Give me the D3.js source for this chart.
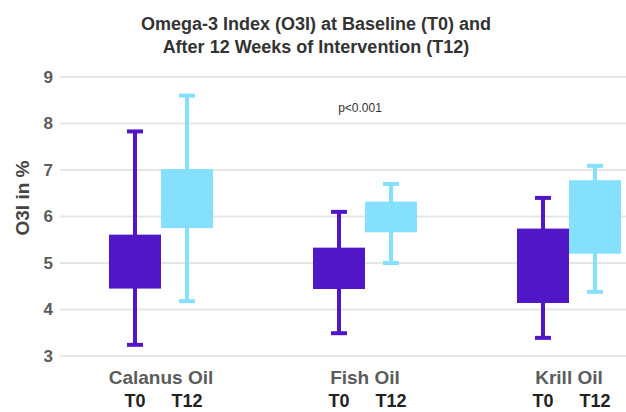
<!DOCTYPE html>
<html>
<head>
<meta charset="utf-8">
<script src="https://cdn.jsdelivr.net/npm/d3@7"></script>
<style>
  html, body { margin: 0; padding: 0; background: #ffffff; }
  svg { display: block; }
</style>
</head>
<body>
<svg id="chart" width="626" height="412"></svg>
<script>
// Groups and time points
const categories = ["Calanus Oil", "Fish Oil", "Krill Oil"];
const timepoints = ["T0", "T12"];

// Box-and-whisker values (O3I in %), one entry per group
const t0Min = [3.24, 3.49, 3.39];
const t0Q1  = [4.45, 4.44, 4.14];
const t0Q3  = [5.61, 5.33, 5.74];
const t0Max = [7.83, 6.10, 6.40];

const t12Min = [4.18, 5.00, 4.38];
const t12Q1  = [5.75, 5.66, 5.20];
const t12Q3  = [7.02, 6.32, 6.78];
const t12Max = [8.60, 6.70, 7.09];

const yTicks = [3, 4, 5, 6, 7, 8, 9];
const pLabel = "p<0.001";

const series = {
  T0:  { min: t0Min,  q1: t0Q1,  q3: t0Q3,  max: t0Max },
  T12: { min: t12Min, q1: t12Q1, q3: t12Q3, max: t12Max }
};
const colors = { T0: "#5117c6", T12: "#84e0fc" };

const W = 626, H = 412;
const svg = d3.select("#chart");

const y = d3.scaleLinear().domain([3, 9]).range([356, 77]);
const x = d3.scaleBand().domain(categories).range([59, 671]).padding(0);
const boxW = 52;
const xs = d3.scaleBand().domain(timepoints)
  .range([x.bandwidth() / 2 - boxW, x.bandwidth() / 2 + boxW]).padding(0);

// Gridlines
svg.append("g").selectAll("line").data(yTicks).join("line")
  .attr("x1", 60).attr("x2", W)
  .attr("y1", d => y(d)).attr("y2", d => y(d))
  .attr("stroke", "#e6e6e6").attr("stroke-width", 2);

// Y axis tick labels
const yAxis = d3.axisLeft(y).tickValues(yTicks).tickSize(0).tickPadding(0).tickFormat(d3.format("d"));
const gy = svg.append("g").attr("transform", "translate(53,0)").call(yAxis);
gy.select(".domain").remove();
gy.selectAll("text")
  .attr("font-family", "Liberation Sans, Arial, sans-serif")
  .attr("font-weight", "bold").attr("font-size", 17).attr("fill", "#5c5c5c");

// Y axis title
svg.append("text")
  .attr("transform", "translate(29,198) rotate(-90)")
  .attr("text-anchor", "middle")
  .attr("font-family", "Liberation Sans, Arial, sans-serif")
  .attr("font-weight", "bold").attr("font-size", 19).attr("fill", "#444")
  .text("O3I in %");

// Title
const title = svg.append("text")
  .attr("text-anchor", "middle")
  .attr("font-family", "Liberation Sans, Arial, sans-serif")
  .attr("font-weight", "bold").attr("font-size", 18).attr("fill", "#333");
title.append("tspan").attr("x", 316).attr("y", 30).text("Omega-3 Index (O3I) at Baseline (T0) and");
title.append("tspan").attr("x", 316).attr("y", 53).text("After 12 Weeks of Intervention (T12)");

// Boxes
const groups = svg.append("g").selectAll("g").data(categories).join("g")
  .attr("transform", d => `translate(${x(d)},0)`);

timepoints.forEach(tp => {
  const s = series[tp];
  const col = colors[tp];
  const cx = xs(tp) + xs.bandwidth() / 2;
  // whisker stem
  groups.append("line")
    .attr("x1", cx).attr("x2", cx)
    .attr("y1", (d, i) => y(s.max[i])).attr("y2", (d, i) => y(s.min[i]))
    .attr("stroke", col).attr("stroke-width", 4);
  // caps
  ["min", "max"].forEach(k => {
    groups.append("line")
      .attr("x1", cx - 8).attr("x2", cx + 8)
      .attr("y1", (d, i) => y(s[k][i])).attr("y2", (d, i) => y(s[k][i]))
      .attr("stroke", col).attr("stroke-width", 4);
  });
  // box
  groups.append("rect")
    .attr("x", xs(tp)).attr("width", xs.bandwidth())
    .attr("y", (d, i) => y(s.q3[i]))
    .attr("height", (d, i) => y(s.q1[i]) - y(s.q3[i]))
    .attr("fill", col);
  // time point label
  groups.append("text")
    .attr("x", cx).attr("y", 407)
    .attr("text-anchor", "middle")
    .attr("font-family", "Liberation Sans, Arial, sans-serif")
    .attr("font-weight", "bold").attr("font-size", 18).attr("fill", "#222")
    .text(tp);
});

// Group labels
groups.append("text")
  .attr("x", x.bandwidth() / 2).attr("y", 384)
  .attr("text-anchor", "middle")
  .attr("font-family", "Liberation Sans, Arial, sans-serif")
  .attr("font-weight", "bold").attr("font-size", 19).attr("fill", "#5c5c5c")
  .text(d => d);

// Significance note
svg.append("text")
  .attr("x", x("Fish Oil") + x.bandwidth() / 2 - 5).attr("y", 112)
  .attr("text-anchor", "middle")
  .attr("font-family", "Liberation Sans, Arial, sans-serif")
  .attr("font-size", 12).attr("fill", "#333")
  .text(pLabel);
</script>
</body>
</html>
